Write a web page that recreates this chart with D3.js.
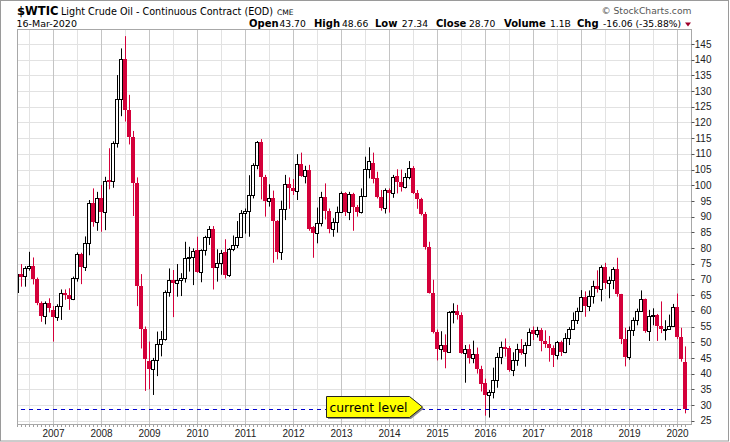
<!DOCTYPE html>
<html>
<head>
<meta charset="utf-8">
<script src="https://cdn.jsdelivr.net/npm/d3@7"></script>
<style>
  body { margin: 0; background: #fff; }
  svg { display: block; }
</style>
</head>
<body>
<div id="candle-chart"></div>
<script>
// monthly bars, Apr 2006 .. Mar 2020
const months = [
  "2006-04","2006-05","2006-06","2006-07","2006-08","2006-09","2006-10","2006-11","2006-12",
  "2007-01","2007-02","2007-03","2007-04","2007-05","2007-06","2007-07","2007-08","2007-09","2007-10","2007-11","2007-12",
  "2008-01","2008-02","2008-03","2008-04","2008-05","2008-06","2008-07","2008-08","2008-09","2008-10","2008-11","2008-12",
  "2009-01","2009-02","2009-03","2009-04","2009-05","2009-06","2009-07","2009-08","2009-09","2009-10","2009-11","2009-12",
  "2010-01","2010-02","2010-03","2010-04","2010-05","2010-06","2010-07","2010-08","2010-09","2010-10","2010-11","2010-12",
  "2011-01","2011-02","2011-03","2011-04","2011-05","2011-06","2011-07","2011-08","2011-09","2011-10","2011-11","2011-12",
  "2012-01","2012-02","2012-03","2012-04","2012-05","2012-06","2012-07","2012-08","2012-09","2012-10","2012-11","2012-12",
  "2013-01","2013-02","2013-03","2013-04","2013-05","2013-06","2013-07","2013-08","2013-09","2013-10","2013-11","2013-12",
  "2014-01","2014-02","2014-03","2014-04","2014-05","2014-06","2014-07","2014-08","2014-09","2014-10","2014-11","2014-12",
  "2015-01","2015-02","2015-03","2015-04","2015-05","2015-06","2015-07","2015-08","2015-09","2015-10","2015-11","2015-12",
  "2016-01","2016-02","2016-03","2016-04","2016-05","2016-06","2016-07","2016-08","2016-09","2016-10","2016-11","2016-12",
  "2017-01","2017-02","2017-03","2017-04","2017-05","2017-06","2017-07","2017-08","2017-09","2017-10","2017-11","2017-12",
  "2018-01","2018-02","2018-03","2018-04","2018-05","2018-06","2018-07","2018-08","2018-09","2018-10","2018-11","2018-12",
  "2019-01","2019-02","2019-03","2019-04","2019-05","2019-06","2019-07","2019-08","2019-09","2019-10","2019-11","2019-12",
  "2020-01","2020-02","2020-03"
];

const open = [
  66.0, 71.7, 71.0, 73.6, 74.2, 70.0, 62.4, 58.2, 62.5,
  60.3, 57.9, 61.6, 65.6, 65.0, 63.9, 70.3, 78.0, 73.9, 81.5, 94.5, 88.4,
  95.8, 91.6, 101.7, 101.4, 113.4, 127.4, 140.1, 124.1, 115.5, 100.6, 67.8, 54.2,
  44.0, 41.5, 44.3, 49.5, 50.9, 66.1, 69.9, 69.0, 69.8, 70.4, 76.7, 77.0,
  79.4, 72.5, 79.5, 83.4, 86.1, 73.9, 75.3, 78.8, 71.4, 79.6, 81.0, 83.6,
  91.2, 91.9, 96.9, 106.5, 113.7, 102.5, 95.0, 96.0, 88.6, 78.6, 92.3, 100.3,
  99.2, 98.1, 106.7, 103.1, 104.9, 86.6, 84.7, 88.1, 96.2, 91.9, 86.0, 88.4,
  91.6, 97.4, 91.6, 97.2, 93.0, 91.4, 96.6, 105.2, 107.0, 102.2, 96.2, 92.6,
  98.4, 97.5, 102.9, 101.1, 99.5, 102.7, 105.6, 97.6, 95.5, 91.0, 80.4, 65.6,
  53.4, 47.8, 49.1, 47.0, 59.5, 60.0, 58.7, 46.5, 47.7, 44.9, 46.2, 41.4,
  37.0, 33.2, 34.2, 38.0, 45.4, 48.6, 48.2, 41.2, 44.3, 47.7, 46.6, 49.1,
  53.9, 52.5, 54.0, 50.5, 49.3, 48.3, 46.0, 50.0, 47.0, 51.4, 54.1, 57.1,
  60.0, 64.5, 61.4, 64.7, 68.0, 66.9, 73.9, 68.8, 69.8, 73.2, 65.3, 50.9,
  45.4, 53.8, 57.2, 60.1, 63.9, 53.5, 58.4, 58.8, 55.1, 54.1, 54.2, 55.2,
  61.1, 51.6, 43.70
];

const high = [
  72.0, 74.9, 74.2, 78.8, 77.0, 70.6, 63.0, 63.0, 64.0,
  61.5, 62.1, 66.8, 66.8, 67.2, 70.9, 78.6, 78.5, 83.7, 95.3, 99.0, 97.9,
  100.1, 102.7, 111.8, 114.0, 135.1, 143.6, 147.5, 128.8, 117.3, 102.5, 71.7, 55.0,
  50.2, 45.0, 53.4, 53.6, 66.5, 73.5, 73.0, 74.9, 72.0, 82.0, 80.4, 79.9,
  83.6, 79.6, 83.9, 87.0, 87.0, 79.6, 79.4, 82.8, 80.0, 84.0, 88.6, 92.1,
  92.6, 103.2, 107.0, 114.1, 114.7, 103.3, 100.3, 98.3, 88.9, 95.1, 103.3, 102.5,
  102.0, 109.9, 110.4, 106.2, 106.5, 87.0, 92.9, 97.9, 100.6, 92.6, 89.5, 93.2,
  98.0, 97.8, 97.9, 97.6, 93.7, 99.0, 109.1, 112.1, 110.4, 104.3, 98.5, 99.0,
  99.0, 103.3, 105.1, 105.0, 103.9, 107.7, 106.1, 98.5, 96.0, 91.5, 82.0, 69.9,
  54.0, 53.5, 52.5, 59.9, 62.4, 61.9, 59.5, 49.1, 49.3, 50.5, 48.3, 42.5,
  38.4, 34.8, 41.9, 46.6, 50.2, 51.2, 48.8, 46.8, 49.5, 51.0, 50.0, 54.4,
  55.0, 54.9, 54.5, 53.8, 52.0, 49.0, 50.4, 50.5, 52.9, 54.8, 59.5, 61.0,
  66.6, 66.2, 66.5, 69.6, 72.9, 74.5, 75.3, 70.9, 73.9, 76.9, 65.4, 54.6,
  55.0, 57.9, 60.7, 66.5, 63.9, 60.3, 60.8, 59.0, 63.0, 57.0, 58.8, 62.2,
  65.5, 54.6, 48.66
];

const low = [
  65.6, 67.7, 67.7, 72.8, 68.4, 61.8, 56.5, 55.7, 59.5,
  50.2, 56.8, 57.1, 63.5, 60.3, 63.4, 69.3, 68.5, 72.7, 77.7, 86.8, 85.5,
  85.2, 85.7, 98.7, 99.2, 112.0, 122.0, 120.3, 113.0, 90.2, 61.5, 48.0, 34.5,
  35.0, 33.2, 39.2, 45.5, 50.5, 64.5, 58.0, 64.5, 64.7, 69.0, 72.5, 68.2,
  72.1, 69.1, 77.6, 81.0, 66.8, 69.3, 71.5, 70.3, 70.8, 79.0, 80.0, 83.5,
  84.6, 83.6, 95.8, 105.1, 95.5, 90.0, 93.2, 75.3, 76.4, 76.2, 88.9, 92.5,
  96.9, 95.3, 102.7, 100.6, 85.5, 76.9, 81.5, 86.9, 89.1, 84.7, 83.6, 84.9,
  91.3, 90.2, 88.9, 85.5, 90.0, 91.0, 96.4, 102.2, 100.6, 95.8, 91.9, 91.0,
  91.3, 96.0, 97.4, 98.0, 99.0, 101.9, 97.2, 92.5, 90.4, 79.5, 65.5, 52.8,
  44.2, 44.5, 41.7, 46.8, 56.0, 57.2, 46.3, 37.1, 43.2, 43.3, 40.0, 34.3,
  26.6, 26.0, 32.1, 35.5, 43.0, 45.4, 40.6, 39.2, 42.5, 46.0, 42.2, 48.8,
  50.7, 51.5, 47.1, 48.2, 43.8, 42.1, 44.5, 45.6, 46.5, 49.1, 54.0, 55.8,
  59.8, 58.1, 59.9, 62.3, 65.8, 63.0, 67.0, 64.0, 66.9, 64.5, 49.4, 42.3,
  44.4, 52.0, 55.4, 59.8, 53.0, 50.4, 55.4, 50.4, 52.9, 50.6, 54.0, 55.0,
  51.0, 43.8, 27.34
];

const close = [
  71.7, 70.9, 73.6, 74.2, 70.0, 62.6, 58.2, 62.6, 60.8,
  57.9, 61.6, 65.6, 65.0, 63.7, 70.3, 78.0, 73.9, 81.5, 94.2, 88.4, 95.8,
  91.6, 101.5, 101.4, 113.4, 127.4, 140.1, 124.1, 115.5, 100.6, 67.8, 54.2, 44.6,
  41.5, 44.3, 49.5, 50.9, 66.1, 69.8, 69.0, 69.8, 70.4, 76.7, 77.0, 79.2,
  72.5, 79.4, 83.4, 86.1, 73.8, 75.3, 78.5, 71.4, 79.6, 81.0, 83.6, 91.1,
  91.9, 96.9, 106.5, 113.7, 102.5, 95.0, 95.8, 88.6, 78.6, 92.3, 100.3, 99.0,
  98.1, 106.7, 103.1, 104.9, 86.1, 84.7, 88.1, 96.2, 91.9, 86.0, 88.4, 91.6,
  97.4, 91.6, 97.2, 93.0, 91.4, 96.6, 105.2, 107.6, 102.1, 96.2, 92.6, 98.5,
  97.5, 102.7, 101.1, 99.5, 102.7, 105.6, 97.6, 95.5, 91.0, 80.4, 65.6, 53.4,
  47.8, 49.1, 47.0, 59.5, 60.0, 58.7, 46.5, 47.7, 44.9, 46.2, 41.4, 36.6,
  33.2, 34.2, 38.0, 45.4, 48.6, 48.2, 41.2, 44.3, 47.7, 46.6, 49.1, 53.4,
  52.5, 54.0, 50.5, 49.3, 48.3, 46.0, 50.0, 47.0, 51.4, 54.1, 57.1, 60.0,
  64.5, 61.4, 64.7, 68.0, 66.9, 73.9, 68.8, 69.8, 73.2, 65.3, 50.9, 45.4,
  53.8, 57.2, 60.1, 63.9, 53.5, 58.4, 58.8, 55.1, 54.1, 54.2, 55.2, 61.1,
  51.6, 44.76, 28.70
];

const priceTicks = [25, 30, 35, 40, 45, 50, 55, 60, 65, 70, 75, 80, 85, 90, 95,
  100, 105, 110, 115, 120, 125, 130, 135, 140, 145];
const yearLabels = ["2007", "2008", "2009", "2010", "2011", "2012", "2013",
  "2014", "2015", "2016", "2017", "2018", "2019", "2020"];

const symbol = "$WTIC";
const seriesName = "Light Crude Oil - Continuous Contract (EOD)";
const exchange = "CME";
const lastDate = "16-Mar-2020";
const lastVolume = "1.1B";
const calloutMonth = "2014-09";

class candleViz {
  constructor(parentElement) {
    this.parentElement = parentElement;
    this.data = months.map((m, i) => ({
      month: m,
      open: open[i],
      high: high[i],
      low: low[i],
      close: close[i],
    }));
    this.initVis();
  }

  initVis() {
    let vis = this;

    vis.width = 730;
    vis.height = 442;
    vis.plot = { left: 17.5, top: 29.5, right: 691.5, bottom: 424.5 };
    vis.red = "#d4003a";

    vis.svg = d3
      .select("#" + vis.parentElement)
      .append("svg")
      .attr("width", vis.width)
      .attr("height", vis.height)
      .style("font-family", "'DejaVu Sans', sans-serif");

    // one 4px band per month
    vis.xscale = d3.scaleBand().domain(months).range([15.5, 687.5]);
    vis.yscale = d3.scaleLinear().domain([25, 145]).range([420.7, 44]);

    vis.svg
      .append("defs")
      .append("clipPath")
      .attr("id", "plot-clip")
      .append("rect")
      .attr("x", 18)
      .attr("y", 30)
      .attr("width", 673)
      .attr("height", 394);

    vis.wrangleData();
  }

  wrangleData() {
    let vis = this;
    vis.cx = (m) => vis.xscale(m) + vis.xscale.bandwidth() / 2;
    vis.py = (v) => Math.round(vis.yscale(v)) + 0.5;

    vis.last = vis.data[vis.data.length - 1];
    vis.prev = vis.data[vis.data.length - 2];
    vis.chg = vis.last.close - vis.prev.close;
    vis.chgPct = (vis.chg / vis.prev.close) * 100;

    vis.updateVis();
  }

  updateVis() {
    let vis = this;
    let p = vis.plot;

    // outer frame
    vis.svg
      .append("rect")
      .attr("x", 0.5)
      .attr("y", 0.5)
      .attr("width", 728)
      .attr("height", 440.5)
      .attr("fill", "none")
      .attr("stroke", "#9a9a9a");

    // horizontal grid
    vis.svg
      .append("g")
      .selectAll("line")
      .data(priceTicks)
      .enter()
      .append("line")
      .attr("x1", p.left)
      .attr("x2", p.right)
      .attr("y1", (d) => vis.py(d))
      .attr("y2", (d) => vis.py(d))
      .attr("stroke", "#e2e2e2");

    // vertical grid, Jan and Jul
    let gridMonths = months.filter((m) => m.endsWith("-01") || m.endsWith("-07"));
    vis.svg
      .append("g")
      .selectAll("line")
      .data(gridMonths)
      .enter()
      .append("line")
      .attr("x1", (d) => vis.cx(d))
      .attr("x2", (d) => vis.cx(d))
      .attr("y1", p.top)
      .attr("y2", p.bottom)
      .attr("stroke", (d) => (d.endsWith("-01") ? "#c4c4c4" : "#e2e2e2"));

    // month ticks under the frame
    vis.svg
      .append("g")
      .selectAll("line")
      .data(months)
      .enter()
      .append("line")
      .attr("x1", (d) => vis.cx(d))
      .attr("x2", (d) => vis.cx(d))
      .attr("y1", p.bottom)
      .attr("y2", p.bottom + 2.5)
      .attr("stroke", "#a0a0a0");

    // candles
    let candles = vis.svg
      .append("g")
      .attr("clip-path", "url(#plot-clip)")
      .selectAll("g")
      .data(vis.data)
      .enter()
      .append("g");

    candles
      .append("line")
      .attr("x1", (d) => vis.cx(d.month))
      .attr("x2", (d) => vis.cx(d.month))
      .attr("y1", (d) => vis.yscale(d.high))
      .attr("y2", (d) => vis.yscale(d.low))
      .attr("stroke", (d) => (d.close >= d.open ? "#000" : vis.red))
      .attr("stroke-width", 1);

    candles
      .filter((d) => d.close >= d.open)
      .append("rect")
      .attr("x", (d) => vis.cx(d.month) - 2)
      .attr("y", (d) => vis.py(d.close))
      .attr("width", 3)
      .attr("height", (d) => Math.max(1, vis.py(d.open) - vis.py(d.close)))
      .attr("fill", "#fff")
      .attr("stroke", "#000")
      .attr("stroke-width", 1);

    candles
      .filter((d) => d.close < d.open)
      .append("rect")
      .attr("x", (d) => vis.cx(d.month) - 2.5)
      .attr("y", (d) => Math.round(vis.yscale(d.open)))
      .attr("width", 4)
      .attr("height", (d) =>
        Math.max(2, Math.round(vis.yscale(d.close)) - Math.round(vis.yscale(d.open)))
      )
      .attr("fill", vis.red);

    // plot frame
    vis.svg
      .append("rect")
      .attr("x", p.left)
      .attr("y", p.top)
      .attr("width", p.right - p.left)
      .attr("height", p.bottom - p.top)
      .attr("fill", "none")
      .attr("stroke", "#a8a8a8");

    // right axis
    let yAxis = vis.svg.append("g").attr("class", "axis y-axis");
    yAxis
      .selectAll("line")
      .data(priceTicks)
      .enter()
      .append("line")
      .attr("x1", p.right)
      .attr("x2", p.right + 3)
      .attr("y1", (d) => vis.py(d))
      .attr("y2", (d) => vis.py(d))
      .attr("stroke", "#555");
    yAxis
      .selectAll("text")
      .data(priceTicks)
      .enter()
      .append("text")
      .attr("x", 711.5)
      .attr("y", (d) => vis.yscale(d) + 3.6)
      .attr("text-anchor", "end")
      .style("font-family", "'Liberation Sans', Arial, sans-serif")
      .style("font-size", "10px")
      .attr("fill", "#222")
      .text((d) => d);

    // years along the bottom
    vis.svg
      .append("g")
      .attr("class", "axis x-axis")
      .selectAll("text")
      .data(yearLabels)
      .enter()
      .append("text")
      .attr("x", (d) => vis.cx(d + "-01"))
      .attr("y", 436.5)
      .attr("text-anchor", "middle")
      .style("font-family", "'Liberation Sans', Arial, sans-serif")
      .style("font-size", "10px")
      .attr("fill", "#222")
      .text((d) => d);

    // current level line
    let lvlY = Math.round(vis.yscale(vis.last.close)) + 0.5;
    vis.svg
      .append("line")
      .attr("x1", 21)
      .attr("x2", p.right - 1)
      .attr("y1", lvlY)
      .attr("y2", lvlY)
      .attr("stroke", "#0000cc")
      .attr("stroke-dasharray", "4,4");

    // callout
    let tipX = vis.cx(calloutMonth) + 1;
    let tipY = lvlY - 2.5;
    let box = [
      [tipX - 96, tipY - 10.5],
      [tipX - 13, tipY - 10.5],
      [tipX, tipY],
      [tipX - 13, tipY + 10.5],
      [tipX - 96, tipY + 10.5],
    ];
    vis.svg
      .append("polygon")
      .attr("points", box.map((q) => [q[0] + 1.5, q[1] + 1.5].join(",")).join(" "))
      .attr("fill", "#8a8a8a");
    vis.svg
      .append("polygon")
      .attr("points", box.map((q) => q.join(",")).join(" "))
      .attr("fill", "#ffff00")
      .attr("stroke", "#222")
      .attr("stroke-width", 1);
    vis.svg
      .append("text")
      .attr("x", tipX - 54)
      .attr("y", tipY + 4.6)
      .attr("text-anchor", "middle")
      .style("font-size", "12.4px")
      .attr("fill", "#000")
      .text("current level");

    // header
    let head = vis.svg.append("g").attr("fill", "#000");
    head
      .append("text")
      .attr("x", 17)
      .attr("y", 15)
      .style("font-weight", "bold")
      .style("font-size", "11.6px")
      .attr("textLength", 41.5)
      .attr("lengthAdjust", "spacingAndGlyphs")
      .text(symbol);
    head
      .append("text")
      .attr("x", 61)
      .attr("y", 15)
      .style("font-size", "9.6px")
      .attr("textLength", 212)
      .attr("lengthAdjust", "spacingAndGlyphs")
      .text(seriesName);
    head
      .append("text")
      .attr("x", 277)
      .attr("y", 15)
      .style("font-size", "7.6px")
      .text(exchange);
    head
      .append("text")
      .attr("x", 691.5)
      .attr("y", 14)
      .attr("text-anchor", "end")
      .style("font-size", "9.2px")
      .attr("fill", "#555")
      .text("\u00a9 StockCharts.com");
    head
      .append("text")
      .attr("x", 16.5)
      .attr("y", 27)
      .style("font-size", "9.5px")
      .text(lastDate);

    // plain hyphen for negative numbers, as in the header of the original
    let f = d3
      .formatLocale({ decimal: ".", thousands: ",", grouping: [3], currency: ["$", ""], minus: "-" })
      .format(".2f");
    let stats = [
      ["Open", 249, true],
      [f(vis.last.open), 279.5, false],
      ["High", 314, true],
      [f(vis.last.high), 342, false],
      ["Low", 375, true],
      [f(vis.last.low), 401.7, false],
      ["Close", 436, true],
      [f(vis.last.close), 469, false],
      ["Volume", 504, true],
      [lastVolume, 550, false],
      ["Chg", 577, true],
      [f(vis.chg) + " (" + f(vis.chgPct) + "%)", 603, false],
    ];
    head
      .selectAll(".stat")
      .data(stats)
      .enter()
      .append("text")
      .attr("class", "stat")
      .attr("x", (d) => d[1])
      .attr("y", 27)
      .style("font-weight", (d) => (d[2] ? "bold" : "normal"))
      .style("font-size", (d) => (d[2] ? "10px" : "9.2px"))
      .text((d) => d[0]);

    head
      .append("path")
      .attr("d", "M685,22.5 L691,22.5 L688,26.5 Z")
      .attr("fill", "#a0002a");
  }
}

new candleViz("candle-chart");
</script>
</body>
</html>
